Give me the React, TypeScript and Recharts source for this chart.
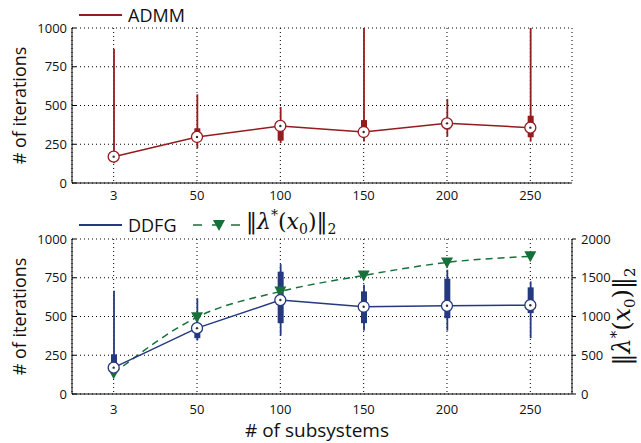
import React from "react";
import { ComposedChart, Bar, Line, XAxis, YAxis, CartesianGrid } from "recharts";

const categories = ["3", "50", "100", "150", "200", "250"];

// ADMM box plot stats (# of iterations)
const admmLow = [127, 224, 258, 267, 299, 267];
const admmQ1 = [160, 280, 273, 320, 346, 295];
const admmMedian = [170, 297, 368, 329, 385, 357];
const admmQ3 = [180, 353, 375, 406, 400, 434];
const admmHigh = [865, 572, 490, 1000, 542, 1000];

// DDFG box plot stats (# of iterations)
const ddfgLow = [140, 345, 377, 409, 409, 360];
const ddfgQ1 = [160, 360, 457, 457, 489, 522];
const ddfgMedian = [170, 425, 606, 563, 569, 573];
const ddfgQ3 = [256, 455, 789, 662, 744, 688];
const ddfgHigh = [666, 618, 838, 705, 802, 726];

// ||lambda*(x0)||_2, right axis
const lambdaNorm = [267, 991, 1323, 1530, 1698, 1776];

const iterTicks = [0, 250, 500, 750, 1000];
const lambdaTicks = [0, 500, 1000, 1500, 2000];

const RED = "#941b1e";
const BLUE = "#25397f";
const GREEN = "#17703a";
const FONT = '"Open Sans", sans-serif';
const SERIF = '"DejaVu Serif", "Liberation Serif", serif';

const admmData = categories.map((cat, i) => ({
  cat,
  low: admmLow[i],
  q1: admmQ1[i],
  med: admmMedian[i],
  q3: admmQ3[i],
  high: admmHigh[i],
}));

const ddfgData = categories.map((cat, i) => ({
  cat,
  low: ddfgLow[i],
  q1: ddfgQ1[i],
  med: ddfgMedian[i],
  q3: ddfgQ3[i],
  high: ddfgHigh[i],
  lambda: lambdaNorm[i],
}));

const tickStyle = { fill: "#111", fontSize: 13, fontFamily: FONT };

// whisker + box drawn from the range bar [low, high]
const boxShape = (color: string) => (props: any) => {
  const { x, y, width, height, payload } = props;
  if (x == null || !payload) return <g />;
  const top = Math.min(y, y + height);
  const h = Math.abs(height);
  const span = payload.high - payload.low;
  const yOf = (v: number) => top + ((payload.high - v) / span) * h;
  const cx = x + width / 2;
  return (
    <g>
      <line x1={cx} x2={cx} y1={top} y2={top + h} stroke={color} strokeWidth={1.8} />
      <rect x={x} y={yOf(payload.q3)} width={width} height={yOf(payload.q1) - yOf(payload.q3)} fill={color} />
    </g>
  );
};

const medianDot = (color: string) => (props: any) => {
  const { cx, cy, index } = props;
  return (
    <g key={`med-${index}`}>
      <circle cx={cx} cy={cy} r={5.5} fill="#fff" stroke={color} strokeWidth={1.3} />
      <circle cx={cx} cy={cy} r={1.2} fill="#333" />
    </g>
  );
};

const triangleDot = (props: any) => {
  const { cx, cy, index } = props;
  return (
    <path
      key={`tri-${index}`}
      d={`M${cx - 6},${cy - 5}L${cx + 6},${cy - 5}L${cx},${cy + 6}Z`}
      fill={GREEN}
    />
  );
};

const iterTitle = (p: any) => {
  const vb = p.viewBox;
  const cx = 19;
  const cy = vb.y + vb.height / 2;
  return (
    <text
      x={cx}
      y={cy}
      transform={`rotate(-90, ${cx}, ${cy})`}
      textAnchor="middle"
      dominantBaseline="central"
      fontSize={18}
      fontFamily={FONT}
      fill="#111"
    >
      # of iterations
    </text>
  );
};

const lambdaTitle = (p: any) => {
  const vb = p.viewBox;
  const cx = 630;
  const cy = vb.y + vb.height / 2;
  return (
    <text
      transform={`translate(${cx}, ${cy}) rotate(-90)`}
      textAnchor="middle"
      fontSize={24}
      fontFamily={SERIF}
      fill="#111"
    >
      <tspan>‖</tspan>
      <tspan fontStyle="italic">λ</tspan>
      <tspan dy={-9} fontSize={15}>*</tspan>
      <tspan dy={9}>(</tspan>
      <tspan fontStyle="italic">x</tspan>
      <tspan dy={5} fontSize={15}>0</tspan>
      <tspan dy={-5}>)‖</tspan>
      <tspan dy={5} fontSize={15}>2</tspan>
    </text>
  );
};

const xTitle = (p: any) => {
  const vb = p.viewBox;
  return (
    <text
      x={vb.x + vb.width / 2 - 5}
      y={vb.y + 36}
      textAnchor="middle"
      dominantBaseline="central"
      fontSize={19}
      fontFamily={FONT}
      fill="#111"
    >
      # of subsystems
    </text>
  );
};

export default function App() {
  return (
    <div style={{ position: "absolute", left: 0, top: 0, width: 641, height: 443, background: "#fff" }}>
      {/* top panel: ADMM */}
      <div style={{ position: "absolute", left: 0, top: 0 }}>
        <ComposedChart width={641} height={205} data={admmData} margin={{ top: 28, right: 69, bottom: 0, left: 0 }}>
          <CartesianGrid stroke="#000" strokeDasharray="1 3" />
          <XAxis dataKey="cat" height={22} stroke="#000" tickLine={false} tick={tickStyle} />
          <XAxis xAxisId="top" dataKey="cat" orientation="top" height={0} tick={false} tickLine={false} stroke="#000" />
          <YAxis
            domain={[0, 1000]}
            ticks={iterTicks}
            width={72}
            stroke="#000"
            tickSize={-4}
            tickMargin={9}
            tick={tickStyle}
            label={{ content: iterTitle }}
          />
          <YAxis yAxisId="frame" orientation="right" width={0} domain={[0, 1000]} tick={false} tickLine={false} stroke="#000" />
          <Bar dataKey={(d: any) => [d.low, d.high]} barSize={6} shape={boxShape(RED)} isAnimationActive={false} />
          <Line
            dataKey="med"
            stroke={RED}
            strokeWidth={1.5}
            dot={medianDot(RED)}
            activeDot={false}
            isAnimationActive={false}
          />
        </ComposedChart>
      </div>

      {/* bottom panel: DDFG + lambda */}
      <div style={{ position: "absolute", left: 0, top: 205 }}>
        <ComposedChart width={641} height={238} data={ddfgData} margin={{ top: 34, right: 0, bottom: 0, left: 0 }}>
          <CartesianGrid stroke="#000" strokeDasharray="1 3" />
          <XAxis
            dataKey="cat"
            height={49}
            stroke="#000"
            tickLine={false}
            tickMargin={5}
            tick={tickStyle}
            label={{ content: xTitle }}
          />
          <XAxis xAxisId="top" dataKey="cat" orientation="top" height={0} tick={false} tickLine={false} stroke="#000" />
          <YAxis
            domain={[0, 1000]}
            ticks={iterTicks}
            width={72}
            stroke="#000"
            tickSize={-4}
            tickMargin={9}
            tick={tickStyle}
            label={{ content: iterTitle }}
          />
          <YAxis
            yAxisId="lambda"
            orientation="right"
            width={69}
            domain={[0, 2000]}
            ticks={lambdaTicks}
            stroke="#000"
            tickSize={4}
            tickMargin={5}
            tick={tickStyle}
            label={{ content: lambdaTitle }}
          />
          <Bar dataKey={(d: any) => [d.low, d.high]} barSize={6} shape={boxShape(BLUE)} isAnimationActive={false} />
          <Line
            yAxisId="lambda"
            type="monotone"
            dataKey="lambda"
            stroke={GREEN}
            strokeWidth={1.5}
            strokeDasharray="7 5"
            dot={triangleDot}
            activeDot={false}
            isAnimationActive={false}
          />
          <Line
            dataKey="med"
            stroke={BLUE}
            strokeWidth={1.5}
            dot={medianDot(BLUE)}
            activeDot={false}
            isAnimationActive={false}
          />
        </ComposedChart>
      </div>

      {/* legends */}
      <div style={{ position: "absolute", left: 79, top: 14, width: 43, height: 1.5, background: RED }} />
      <div style={{ position: "absolute", left: 128, top: 4, fontFamily: FONT, fontSize: 18, lineHeight: "22px", color: "#111" }}>
        ADMM
      </div>

      <div style={{ position: "absolute", left: 79, top: 224, width: 43, height: 1.5, background: BLUE }} />
      <div style={{ position: "absolute", left: 128, top: 214, fontFamily: FONT, fontSize: 18, lineHeight: "22px", color: "#111" }}>
        DDFG
      </div>
      <svg style={{ position: "absolute", left: 192, top: 217 }} width={52} height={16}>
        <line x1={1} x2={51} y1={8} y2={8} stroke={GREEN} strokeWidth={1.5} strokeDasharray="9 10" />
        <path d="M21,3L33,3L27,14Z" fill={GREEN} />
      </svg>
      <div style={{ position: "absolute", left: 246, top: 209, fontFamily: SERIF, fontSize: 22, lineHeight: "26px", color: "#111", whiteSpace: "nowrap" }}>
        ‖<i>λ</i>
        <span style={{ fontSize: 14, position: "relative", top: -9 }}>*</span>(<i>x</i>
        <span style={{ fontSize: 14, position: "relative", top: 5 }}>0</span>)‖
        <span style={{ fontSize: 14, position: "relative", top: 5 }}>2</span>
      </div>
    </div>
  );
}
